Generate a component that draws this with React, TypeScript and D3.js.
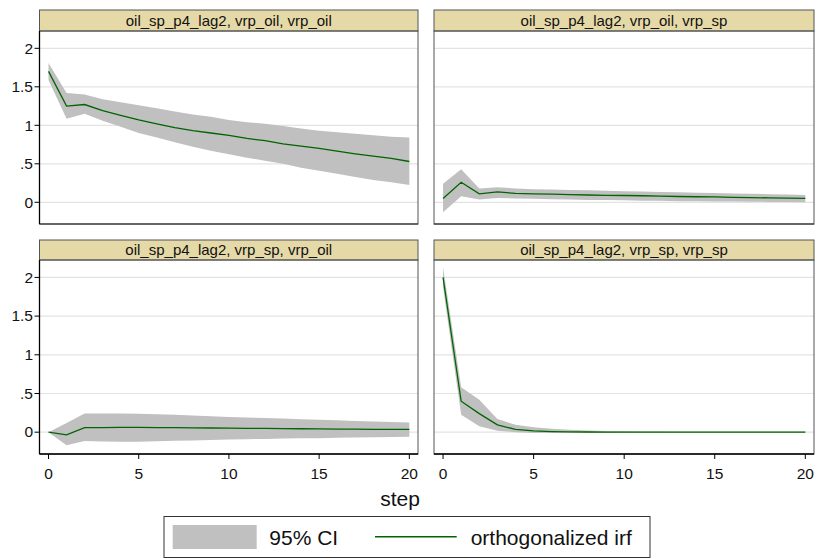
import React from "react";
import * as d3 from "d3";

const steps = d3.range(0, 21);

const titles = [
  "oil_sp_p4_lag2, vrp_oil, vrp_oil",
  "oil_sp_p4_lag2, vrp_oil, vrp_sp",
  "oil_sp_p4_lag2, vrp_sp, vrp_oil",
  "oil_sp_p4_lag2, vrp_sp, vrp_sp",
];

// panel 1: vrp_oil -> vrp_oil
const irf1 = [1.70, 1.25, 1.27, 1.19, 1.13, 1.07, 1.02, 0.97, 0.93, 0.90, 0.87, 0.83, 0.80, 0.76, 0.73, 0.70, 0.665, 0.63, 0.60, 0.57, 0.53];
const upper1 = [1.81, 1.42, 1.40, 1.34, 1.30, 1.26, 1.22, 1.18, 1.14, 1.11, 1.07, 1.04, 1.02, 0.99, 0.96, 0.93, 0.91, 0.89, 0.87, 0.85, 0.84];
const lower1 = [1.59, 1.085, 1.15, 1.06, 0.98, 0.90, 0.84, 0.78, 0.72, 0.67, 0.625, 0.58, 0.54, 0.50, 0.45, 0.41, 0.37, 0.33, 0.29, 0.26, 0.225];

// panel 2: vrp_oil -> vrp_sp
const irf2 = [0.05, 0.26, 0.11, 0.135, 0.115, 0.11, 0.105, 0.10, 0.095, 0.09, 0.088, 0.085, 0.08, 0.075, 0.072, 0.07, 0.065, 0.06, 0.058, 0.055, 0.05];
const upper2 = [0.24, 0.43, 0.18, 0.195, 0.18, 0.17, 0.165, 0.16, 0.155, 0.15, 0.145, 0.14, 0.135, 0.13, 0.125, 0.12, 0.115, 0.11, 0.105, 0.10, 0.095];
const lower2 = [-0.13, 0.08, 0.035, 0.055, 0.05, 0.045, 0.04, 0.035, 0.03, 0.03, 0.025, 0.02, 0.02, 0.015, 0.015, 0.01, 0.01, 0.008, 0.005, 0.003, 0.0];

// panel 3: vrp_sp -> vrp_oil
const irf3 = [0, -0.035, 0.06, 0.058, 0.062, 0.062, 0.06, 0.058, 0.056, 0.054, 0.052, 0.05, 0.048, 0.046, 0.044, 0.042, 0.04, 0.039, 0.037, 0.036, 0.035];
const upper3 = [0, 0.12, 0.24, 0.24, 0.24, 0.238, 0.232, 0.225, 0.215, 0.205, 0.195, 0.19, 0.183, 0.176, 0.168, 0.16, 0.153, 0.146, 0.139, 0.132, 0.125];
const lower3 = [0, -0.17, -0.115, -0.12, -0.125, -0.123, -0.118, -0.112, -0.106, -0.1, -0.095, -0.09, -0.087, -0.083, -0.08, -0.077, -0.073, -0.07, -0.067, -0.063, -0.06];

// panel 4: vrp_sp -> vrp_sp
const irf4 = [2.0, 0.40, 0.24, 0.095, 0.035, 0.017, 0.008, 0.004, 0.002, 0.001, 0, 0, 0, 0, 0, 0, 0, 0, 0, 0, 0];
const upper4 = [2.13, 0.58, 0.42, 0.17, 0.095, 0.065, 0.043, 0.03, 0.022, 0.016, 0.012, 0.01, 0.008, 0.007, 0.006, 0.006, 0.005, 0.005, 0.005, 0.005, 0.005];
const lower4 = [1.87, 0.225, 0.075, 0.02, 0.0, -0.01, -0.012, -0.01, -0.008, -0.006, -0.005, -0.004, -0.004, -0.004, -0.004, -0.004, -0.004, -0.004, -0.004, -0.004, -0.004];

const yTicks = [0, 0.5, 1, 1.5, 2];
const yTickLabels = ["0", ".5", "1", "1.5", "2"];
const xTicks = [0, 5, 10, 15, 20];

const irfs = [irf1, irf2, irf3, irf4];
const uppers = [upper1, upper2, upper3, upper4];
const lowers = [lower1, lower2, lower3, lower4];

const FONT = "'Liberation Sans', Arial, Helvetica, sans-serif";
const BAND = "#c0c0c0";
const LINE = "#006400";
const HEADER = "#e6d9a8";

const colX = [
  { x0: 39.5, x1: 418 },
  { x0: 434, x1: 814 },
];
const rowY = [
  { h0: 10, p0: 31, p1: 224 },
  { h0: 240, p0: 260, p1: 454 },
];

export default function App() {
  const W = 817;
  const H = 559;
  const panels = [0, 1, 2, 3].map((i) => {
    const col = i % 2;
    const row = Math.floor(i / 2);
    const { x0, x1 } = colX[col];
    const { h0, p0, p1 } = rowY[row];
    const x = d3.scaleLinear().domain([-0.5, 20.48]).range([x0, x1]);
    const y = d3.scaleLinear().domain([-0.282, 2.225]).range([p1, p0]);
    const area = d3
      .area<number>()
      .x((d) => x(d))
      .y0((d) => y(lowers[i][d]))
      .y1((d) => y(uppers[i][d]));
    const line = d3
      .line<number>()
      .x((d) => x(d))
      .y((d) => y(irfs[i][d]));
    return (
      <g key={i}>
        <rect x={x0} y={p0} width={x1 - x0} height={p1 - p0} fill="#fff" />
        {yTicks.map((t) => (
          <line key={t} x1={x0} x2={x1} y1={y(t)} y2={y(t)} stroke="#e3e3e3" strokeWidth={1.2} />
        ))}
        <path d={area(steps) || ""} fill={BAND} stroke="none" />
        <path d={line(steps) || ""} fill="none" stroke={LINE} strokeWidth={1.3} />
        <rect x={x0} y={h0} width={x1 - x0} height={p0 - h0} fill={HEADER} stroke="#555" strokeWidth={1} />
        <text
          x={(x0 + x1) / 2}
          y={(h0 + p0) / 2 + 5.2}
          textAnchor="middle"
          fontFamily={FONT}
          fontSize={15}
          fill="#111"
        >
          {titles[i]}
        </text>
        <rect x={x0} y={p0} width={x1 - x0} height={p1 - p0} fill="none" stroke="#555" strokeWidth={1} />
        {col === 0 && (
          <g>
            <line x1={x0} x2={x0} y1={p0} y2={p1} stroke="#000" strokeWidth={1.3} />
            {yTicks.map((t, k) => (
              <g key={t}>
                <line x1={x0 - 5} x2={x0} y1={y(t)} y2={y(t)} stroke="#000" strokeWidth={1} />
                <text
                  x={x0 - 6.5}
                  y={y(t) + 5.3}
                  textAnchor="end"
                  fontFamily={FONT}
                  fontSize={15.5}
                  fill="#111"
                >
                  {yTickLabels[k]}
                </text>
              </g>
            ))}
          </g>
        )}
        {row === 1 && (
          <g>
            <line x1={x0} x2={x1} y1={p1} y2={p1} stroke="#000" strokeWidth={1.3} />
            {xTicks.map((t) => (
              <g key={t}>
                <line x1={x(t)} x2={x(t)} y1={p1} y2={p1 + 5} stroke="#000" strokeWidth={1} />
                <text
                  x={x(t)}
                  y={p1 + 24.5}
                  textAnchor="middle"
                  fontFamily={FONT}
                  fontSize={15.5}
                  fill="#111"
                >
                  {t}
                </text>
              </g>
            ))}
          </g>
        )}
        {row === 0 && <line x1={x0} x2={x1} y1={p1} y2={p1} stroke="#222" strokeWidth={1.2} />}
      </g>
    );
  });

  return (
    <svg width={W} height={H} style={{ position: "absolute", left: 0, top: 0, background: "#fff" }}>
      <rect x={0} y={0} width={W} height={H} fill="#fff" />
      {panels}
      <text x={400} y={505.5} textAnchor="middle" fontFamily={FONT} fontSize={21} fill="#111">
        step
      </text>
      <rect x={164} y={516.5} width={486} height={41} fill="#fff" stroke="#333" strokeWidth={1} />
      <rect x={172.7} y={525} width={84} height={24} fill={BAND} />
      <text x={269.3} y={544.5} fontFamily={FONT} fontSize={21} fill="#111">
        95% CI
      </text>
      <line x1={375} x2={456.7} y1={536.7} y2={536.7} stroke={LINE} strokeWidth={1.5} />
      <text x={470.7} y={544.5} fontFamily={FONT} fontSize={21} fill="#111">
        orthogonalized irf
      </text>
    </svg>
  );
}
